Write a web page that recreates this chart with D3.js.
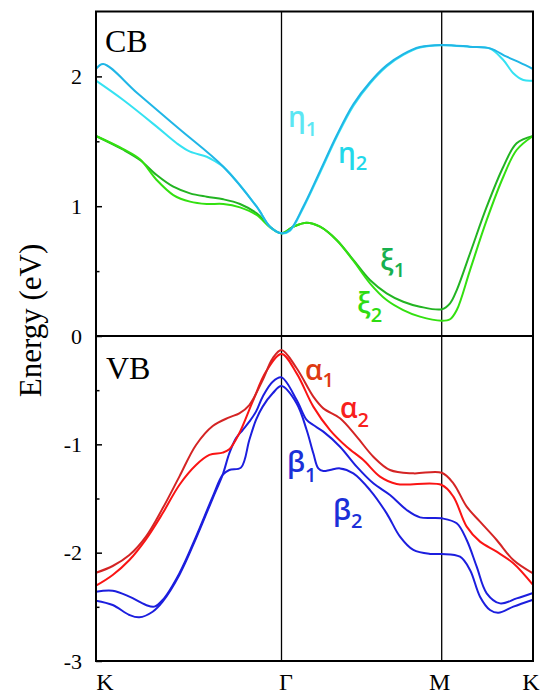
<!DOCTYPE html>
<html><head><meta charset="utf-8">
<script src="https://cdn.jsdelivr.net/npm/d3@7"></script>
<style>html,body{margin:0;padding:0;background:#fff}</style>
</head><body><svg id="c" width="546" height="694"></svg>
<script>
// ---- data ----
const kLabels = ["K", "Γ", "M", "K"];
const kPos = [0, 1.3333, 2.488, 3.1547];
const cbTicks = [0, 1, 2];
const cbMinor = [0.5, 1.5];
const vbTicks = [-1, -2, -3];
const vbMinor = [-0.5, -1.5, -2.5];

// conduction bands (k, E)
const eta2 = [[0,2.057],[0.052,2.096],[0.298,1.870],[0.597,1.596],[0.915,1.304],[1.155,0.996],[1.251,0.842],[1.3333,0.791],[1.395,0.817],[1.490,0.996],[1.611,1.270],[1.731,1.545],[1.851,1.785],[1.971,1.955],[2.091,2.085],[2.211,2.172],[2.331,2.226],[2.488,2.242],[2.695,2.229],[2.841,2.216],[2.9625,2.152],[3.0596,2.106],[3.1547,2.057]];
const eta1 = [[0,1.967],[0.196,1.818],[0.436,1.613],[0.580,1.485],[0.676,1.420],[0.796,1.381],[0.863,1.341],[0.915,1.304],[1.155,0.996],[1.251,0.842],[1.3333,0.791],[1.395,0.812],[1.490,0.986],[1.611,1.258],[1.731,1.533],[1.851,1.773],[1.971,1.945],[2.091,2.076],[2.211,2.165],[2.331,2.222],[2.488,2.240],[2.695,2.227],[2.841,2.214],[2.938,2.126],[3.011,2.024],[3.084,1.972],[3.1547,1.967]];
const xi1 = [[0,1.541],[0.196,1.435],[0.316,1.356],[0.436,1.240],[0.556,1.150],[0.676,1.099],[0.796,1.073],[0.915,1.053],[1.035,1.017],[1.155,0.945],[1.251,0.842],[1.3333,0.791],[1.418,0.842],[1.515,0.873],[1.611,0.842],[1.731,0.740],[1.851,0.586],[1.971,0.431],[2.091,0.329],[2.211,0.264],[2.331,0.226],[2.488,0.206],[2.549,0.252],[2.598,0.354],[2.695,0.637],[2.817,0.996],[2.938,1.304],[3.035,1.485],[3.1547,1.541]];
const xi2 = [[0,1.541],[0.196,1.440],[0.316,1.361],[0.436,1.202],[0.556,1.086],[0.676,1.035],[0.796,1.017],[0.915,1.017],[1.035,0.991],[1.155,0.932],[1.251,0.837],[1.3333,0.791],[1.418,0.842],[1.515,0.873],[1.611,0.842],[1.731,0.738],[1.851,0.580],[1.971,0.406],[2.091,0.277],[2.211,0.200],[2.331,0.149],[2.488,0.118],[2.549,0.129],[2.598,0.200],[2.695,0.508],[2.817,0.894],[2.938,1.227],[3.035,1.433],[3.1547,1.541]];

// valence bands (k, E)
const alpha1 = [[0,-2.185],[0.120,-2.123],[0.240,-2.022],[0.359,-1.852],[0.479,-1.591],[0.599,-1.298],[0.719,-1.006],[0.839,-0.831],[0.958,-0.751],[1.030,-0.714],[1.102,-0.637],[1.198,-0.406],[1.270,-0.206],[1.3333,-0.129],[1.4426,-0.298],[1.5627,-0.560],[1.6348,-0.668],[1.7550,-0.760],[1.8751,-0.929],[1.9952,-1.114],[2.1154,-1.237],[2.2835,-1.268],[2.4878,-1.262],[2.5732,-1.360],[2.6705,-1.575],[2.7678,-1.714],[2.8895,-1.883],[3.0112,-2.068],[3.1547,-2.191]];
const alpha2 = [[0,-2.305],[0.120,-2.206],[0.240,-2.068],[0.359,-1.877],[0.479,-1.637],[0.599,-1.375],[0.719,-1.191],[0.815,-1.098],[0.910,-1.077],[0.958,-1.046],[1.030,-0.898],[1.126,-0.606],[1.222,-0.329],[1.3333,-0.166],[1.4426,-0.345],[1.5627,-0.652],[1.6829,-0.868],[1.8030,-1.022],[1.9231,-1.145],[2.0433,-1.298],[2.1634,-1.366],[2.4878,-1.375],[2.5732,-1.483],[2.6705,-1.760],[2.7678,-1.898],[2.8895,-1.991],[3.0112,-2.098],[3.1547,-2.298]];
const beta1 = [[0,-2.360],[0.120,-2.351],[0.240,-2.406],[0.359,-2.483],[0.419,-2.498],[0.479,-2.437],[0.599,-2.191],[0.719,-1.852],[0.839,-1.483],[0.910,-1.283],[0.958,-1.237],[1.042,-1.215],[1.102,-0.960],[1.150,-0.775],[1.198,-0.652],[1.270,-0.529],[1.3333,-0.462],[1.4426,-0.622],[1.5147,-0.868],[1.5627,-1.083],[1.5988,-1.222],[1.6348,-1.246],[1.6829,-1.237],[1.7550,-1.222],[1.8511,-1.268],[1.9712,-1.422],[2.0913,-1.637],[2.1874,-1.852],[2.2835,-1.975],[2.4037,-2.012],[2.4878,-2.012],[2.6218,-2.037],[2.6948,-2.160],[2.7678,-2.406],[2.8408,-2.529],[2.9017,-2.554],[3.0112,-2.498],[3.1547,-2.434]];
const beta2 = [[0,-2.443],[0.120,-2.483],[0.240,-2.575],[0.311,-2.597],[0.407,-2.545],[0.479,-2.452],[0.599,-2.206],[0.719,-1.868],[0.839,-1.498],[0.910,-1.283],[0.958,-1.083],[1.006,-0.945],[1.054,-0.868],[1.102,-0.791],[1.150,-0.698],[1.198,-0.560],[1.270,-0.422],[1.3333,-0.382],[1.4426,-0.591],[1.5147,-0.775],[1.5627,-0.822],[1.6348,-0.883],[1.7550,-1.022],[1.8751,-1.206],[1.9952,-1.360],[2.1154,-1.468],[2.2355,-1.606],[2.3316,-1.674],[2.4878,-1.683],[2.5975,-1.729],[2.6705,-1.883],[2.7435,-2.129],[2.8165,-2.375],[2.9138,-2.468],[3.0355,-2.422],[3.1547,-2.372]];

const bandLabels = [
  {t:"η", s:"1", x:288, y:127, dy:9, c:"#5ce6f3"},
  {t:"η", s:"2", x:338, y:163, dy:7, c:"#22d8ea"},
  {t:"ξ", s:"1", x:380, y:270, dy:7, c:"#17b04f"},
  {t:"ξ", s:"2", x:357, y:313, dy:9, c:"#2edc12"},
  {t:"α", s:"1", x:305, y:380, dy:7, c:"#de3a12"},
  {t:"α", s:"2", x:340, y:418, dy:9, c:"#f8201c"},
  {t:"β", s:"1", x:287, y:472, dy:10, c:"#1b30d8"},
  {t:"β", s:"2", x:333, y:520, dy:8, c:"#1b30d8"}
];

// ---- drawing ----
const svg = d3.select("#c");
const L = 96, R = 533, T = 11.5, MID = 336, B = 661;
const x = d3.scaleLinear().domain(kPos).range([L, 281.5, 441.7, R]);
const yCB = d3.scaleLinear().domain([0, 2.5]).range([MID, T]);
const yVB = d3.scaleLinear().domain([-3, 0]).range([B, MID]);
const serif = "'Liberation Serif','Times New Roman',serif";

function styleAxis(g, fs) {
  g.select(".domain").remove();
  g.selectAll("line").attr("stroke", "#000").attr("stroke-width", 1.5);
  g.selectAll("text").attr("font-family", serif).attr("font-size", fs).attr("fill", "#000");
}

svg.append("g").attr("transform", `translate(${L},0)`)
  .call(d3.axisLeft(yCB).tickValues(cbTicks).tickSize(-6).tickPadding(14).tickFormat(d => String(d)))
  .call(g => styleAxis(g, 22));
svg.append("g").attr("transform", `translate(${L},0)`)
  .call(d3.axisLeft(yCB).tickValues(cbMinor).tickSize(-3.5).tickFormat(""))
  .call(g => styleAxis(g, 22));
svg.append("g").attr("transform", `translate(${L},0)`)
  .call(d3.axisLeft(yVB).tickValues(vbTicks).tickSize(-6).tickPadding(14).tickFormat(d => String(d)))
  .call(g => styleAxis(g, 22));
svg.append("g").attr("transform", `translate(${L},0)`)
  .call(d3.axisLeft(yVB).tickValues(vbMinor).tickSize(-3.5).tickFormat(""))
  .call(g => styleAxis(g, 22));

const xOff = [8.5, 4, -2.5, -2.5];
svg.append("g").attr("transform", `translate(0,${B})`)
  .call(d3.axisBottom(x).tickValues(kPos).tickSize(0).tickPadding(12).tickFormat((d, i) => kLabels[i]))
  .call(g => styleAxis(g, 24))
  .call(g => g.selectAll("text").attr("dx", (d, i) => xOff[i]));

// high-symmetry vertical lines
svg.append("g").selectAll("line").data(kPos.slice(1, 3)).join("line")
  .attr("x1", d => x(d)).attr("x2", d => x(d)).attr("y1", T).attr("y2", B)
  .attr("stroke", "#000").attr("stroke-width", 1.3);

// bands
const curve = d3.curveCatmullRom.alpha(0.5);
const lineCB = d3.line().x(d => x(d[0])).y(d => yCB(d[1])).curve(curve);
const lineVB = d3.line().x(d => x(d[0])).y(d => yVB(d[1])).curve(curve);
const bands = [
  {d: xi1, c: "#22b422", f: lineCB},
  {d: xi2, c: "#33e010", f: lineCB},
  {d: eta1, c: "#35e2f2", f: lineCB},
  {d: eta2, c: "#20b6e6", f: lineCB},
  {d: beta1, c: "#1c1ede", f: lineVB},
  {d: beta2, c: "#1c1ede", f: lineVB},
  {d: alpha2, c: "#fa1414", f: lineVB},
  {d: alpha1, c: "#d42424", f: lineVB}
];
svg.append("g").selectAll("path").data(bands).join("path")
  .attr("d", b => b.f(b.d)).attr("fill", "none")
  .attr("stroke", b => b.c).attr("stroke-width", 2).attr("stroke-linejoin", "round");

// frame
svg.append("rect").attr("x", L).attr("y", T).attr("width", R - L).attr("height", B - T)
  .attr("fill", "none").attr("stroke", "#000").attr("stroke-width", 2);
svg.append("line").attr("x1", L).attr("x2", R).attr("y1", MID).attr("y2", MID)
  .attr("stroke", "#000").attr("stroke-width", 2);

// panel labels
svg.append("text").attr("x", 105).attr("y", 51.5).text("CB")
  .attr("font-family", serif).attr("font-size", 32);
svg.append("text").attr("x", 106).attr("y", 379).text("VB")
  .attr("font-family", serif).attr("font-size", 32);

// y-axis title
svg.append("text").attr("transform", "translate(41,320.5) rotate(-90)")
  .attr("text-anchor", "middle").attr("font-family", serif).attr("font-size", 31)
  .text("Energy (eV)");

// band labels
const lbl = svg.append("g").selectAll("text").data(bandLabels).join("text")
  .attr("x", d => d.x).attr("y", d => d.y).attr("fill", d => d.c)
  .attr("font-family", "'Open Sans','Noto Sans',sans-serif").attr("font-weight", 600);
lbl.append("tspan").attr("font-size", 28).text(d => d.t);
lbl.append("tspan").attr("font-size", 20).attr("dy", d => d.dy).text(d => d.s);
</script>
</body></html>
